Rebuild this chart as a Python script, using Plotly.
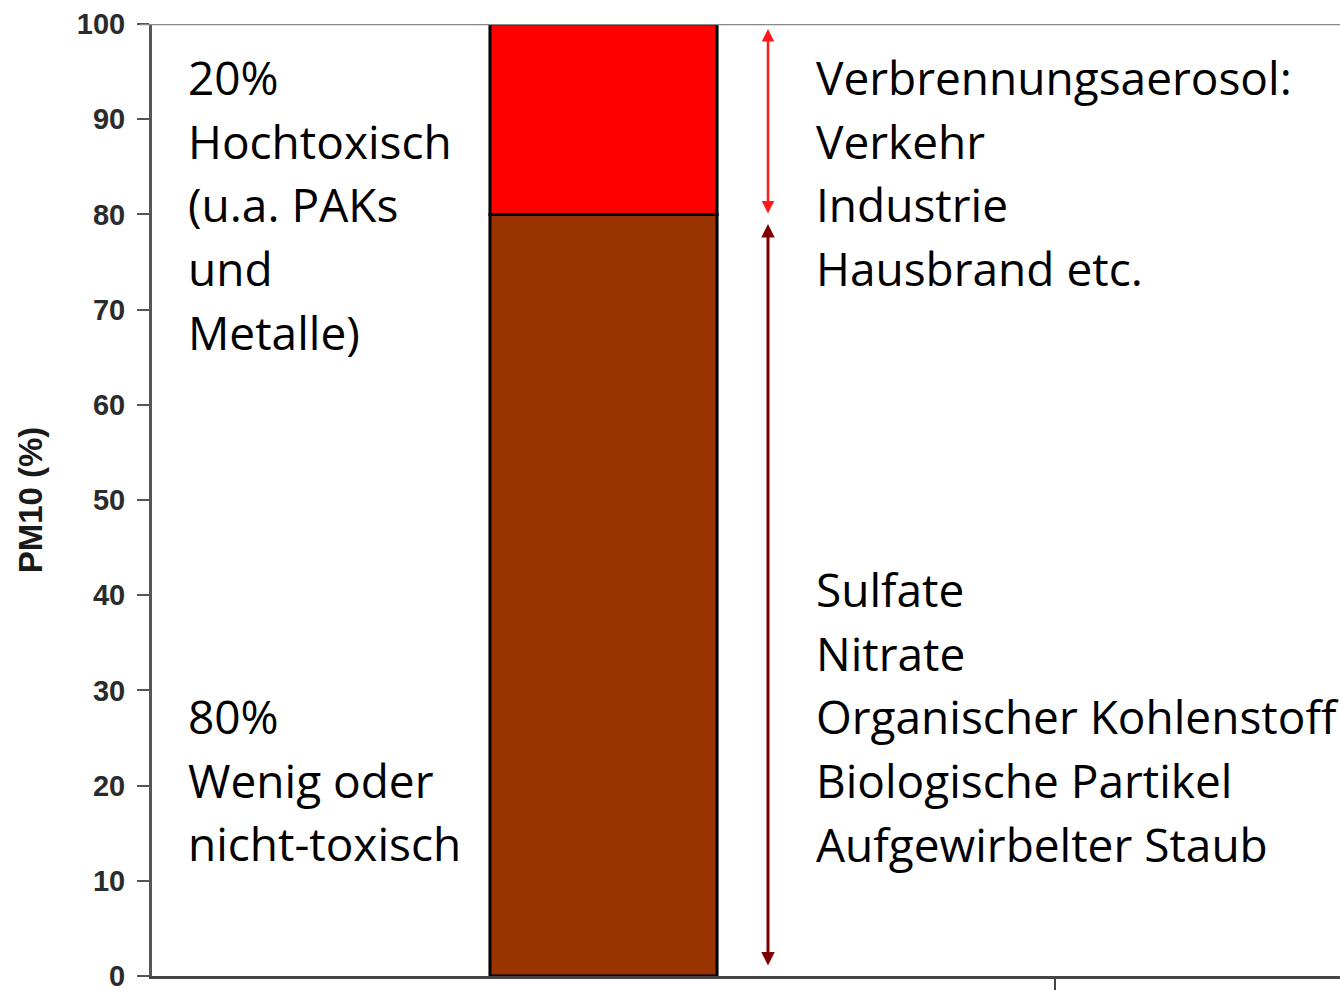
import plotly.graph_objects as go

# Data
segments = ['Wenig oder nicht-toxisch', 'Hochtoxisch']
shares = [80, 20]
seg_colors = ['#993300', '#ff0000']

y_ticks = [0, 10, 20, 30, 40, 50, 60, 70, 80, 90, 100]

left_top = ['20%', 'Hochtoxisch', '(u.a. PAKs', 'und', 'Metalle)']
left_bottom = ['80%', 'Wenig oder', 'nicht-toxisch']
right_top = ['Verbrennungsaerosol:', 'Verkehr', 'Industrie', 'Hausbrand etc.']
right_bottom = ['Sulfate', 'Nitrate', 'Organischer Kohlenstoff', 'Biologische Partikel', 'Aufgewirbelter Staub']

W, H = 1340, 990
L, T, B = 152, 24, 14
UNIT_X = 451.5
XMAX = (W - L) / UNIT_X
PX_Y = (H - T - B) / 100.0


def xd(px):
    return (px - L) / UNIT_X


def yd(py):
    return (H - B - py) / PX_Y


fig = go.Figure()

base = 0
for name, val, col in zip(segments, shares, seg_colors):
    fig.add_trace(go.Bar(x=[1], y=[val], base=[base], width=0.503, name=name,
                         marker=dict(color=col, line=dict(color='black', width=3))))
    base += val

fig.update_layout(
    width=W, height=H,
    margin=dict(l=L, r=0, t=T, b=B, autoexpand=False),
    plot_bgcolor='white', paper_bgcolor='white',
    showlegend=False,
    barmode='overlay',
    xaxis=dict(range=[0, XMAX], showgrid=False, zeroline=False,
               showline=True, linecolor='#444', linewidth=2.5,
               tickvals=[2], ticktext=[''], ticks='outside', ticklen=12,
               tickcolor='#444', tickwidth=2),
    yaxis=dict(range=[0, 100], showgrid=False, zeroline=False,
               showline=True, linecolor='#555', linewidth=3,
               tickvals=y_ticks, ticks='outside', ticklen=12,
               tickcolor='#555', tickwidth=2, ticklabelstandoff=6,
               ticklabeloverflow='allow',
               tickfont=dict(family='Liberation Sans', size=29, color='#2b2b2b', weight='bold'),
               title=dict(text='PM10 (%)', standoff=25,
                          font=dict(family='Liberation Sans', size=33, color='#1a1a1a', weight='bold'))),
)

# top frame line
fig.add_shape(type='line', xref='paper', yref='y', x0=-0.01, x1=1, y0=100, y1=100,
              line=dict(color='#888', width=2.5))

font = dict(family='Open Sans', size=46, color='black')


def add_lines(lines, px, py0, step=63.7):
    for i, t in enumerate(lines):
        fig.add_annotation(x=xd(px), y=yd(py0 + i * step), xref='x', yref='y',
                           text=t, showarrow=False, xanchor='left', yanchor='middle',
                           font=font)


add_lines(left_top, 186, 77)
add_lines(left_bottom, 186, 716)
add_lines(right_top, 814, 77)
add_lines(right_bottom, 814, 589)

# arrows
ax_x = xd(768)
fig.add_annotation(x=ax_x, y=yd(29), ax=ax_x, ay=yd(215), xref='x', yref='y',
                   axref='x', ayref='y', text='', showarrow=True,
                   arrowhead=2, startarrowhead=2, arrowside='end+start',
                   arrowsize=1.0, startarrowsize=1.0, arrowwidth=2.5, arrowcolor='#ff1a1a')
fig.add_annotation(x=ax_x, y=yd(224), ax=ax_x, ay=yd(967), xref='x', yref='y',
                   axref='x', ayref='y', text='', showarrow=True,
                   arrowhead=2, startarrowhead=2, arrowside='end+start',
                   arrowsize=0.9, startarrowsize=0.9, arrowwidth=3, arrowcolor='#800000')

fig.write_html("out.html", config={'displayModeBar': False},
               post_script="document.body.style.margin='0px';")
